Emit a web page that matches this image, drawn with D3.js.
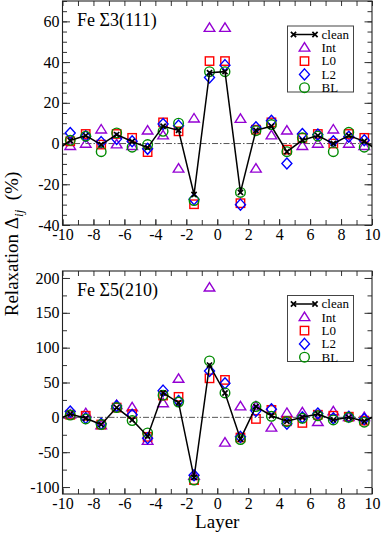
<!DOCTYPE html>
<html>
<head>
<meta charset="utf-8">
<script src="https://cdn.jsdelivr.net/npm/d3@7"></script>
<style>
  body { margin: 0; background: #fff; }
  text { font-family: "Liberation Serif", "Times New Roman", serif; fill: #000; }
</style>
</head>
<body>
<div id="chart"></div>
<script>
"use strict";
(function(){
  // layer positions (half-integer planes around the boundary)
  const layers = [-9.5,-8.5,-7.5,-6.5,-5.5,-4.5,-3.5,-2.5,-1.5,-0.5,0.5,1.5,2.5,3.5,4.5,5.5,6.5,7.5,8.5,9.5]
  const cleanLayers = [-10.5].concat(layers, [10.5])
  const seriesNames = ['clean','Int','L0','L2','BL']

  // Fe Sigma3(111)
  const s3Clean = [-4, 1.5,3.9,-0.5,4.4,1,-2,8.5,6.5,-25,34.8,35.3,-24,6.5,8.5,-4,1.6,3.9,0,3.9,1.1, -4]
  const s3Int = [-1.3,-0.2,6.8,-0.5,-1.3,6.3,3.9,-12.4,12.2,56.7,56.7,12,-12.4,3.9,6.3,-1.3,-0.2,6.8,-0.2,-1.3]
  const s3L0  = [1.1,4.7,-0.5,4.7,2.8,-4.2,10.4,6,-29.8,40.5,40.5,-29.3,6.8,10.4,-3,2.8,4.7,0,4.7,2.8]
  const s3L2  = [5.2,3.6,0.7,2.3,1.1,-2.6,9.6,8.8,-27.3,32.4,38.5,-30,8,11.2,-9.8,4.7,4.4,1.1,3.3,1.6]
  const s3BL  = [1.6,3.6,-4,5.2,-1.8,-0.5,6,10,-28,35.3,35.3,-24,6.3,9.3,-4,2.8,3.6,-4,5.5,-1.8]

  // Fe Sigma5(210)
  const s5Clean = [-4.7, 4.7,-1.4,-10.3,14,-3.7,-27,35,21,-86.4,75,35,-31,15.4,2.3,-5.6,0,4.7,-3.7,0,-5.6, 5.6]
  const s5Int = [3.7,5.6,-11.7,17.3,14,-34,20,55,-84,186,-36.5,15.4,15.4,-15,6,7,-7,8.4,0,0]
  const s5L0  = [3.7,2.3,-10.3,14,4.7,-28,31.3,29.4,-90,56,53.7,-29,-2.3,10.7,-5.6,-8,3.7,2.3,0.9,-4.7]
  const s5L2  = [8.4,-0.9,-9.3,16.4,3.7,-30,38.3,23.4,-83,66.4,49,-28,9.3,11.7,-9.3,0,5.6,-1.4,0.9,-2.3]
  const s5BL  = [3.3,-2.3,-10.3,14,-4.7,-22.4,31.8,22,-90,81,35,-31.8,15.4,1.4,-6,-1.4,2.3,-3.7,0,-7]

  const xMajor = [-10,-8,-6,-4,-2,0,2,4,6,8,10]
  const xMinor = d3.range(-10, 11, 1)

  const colors = { Int: '#9400d3', L0: '#ff0000', L2: '#0000ff', BL: '#008b00', clean: '#000' }

  const m = { width: 382, height: 534, left: 62.5, right: 372 }
  const serif = '"Liberation Serif", "Times New Roman", serif'

  const panels = [
    { title: 'Fe Σ3(111)', top: 1, bottom: 225, yDomain: [-40, 70],
      yMajor: [-40,-20,0,20,40,60], yMinor: d3.range(-40, 71, 5),
      legendTop: 26, data: [s3Clean, s3Int, s3L0, s3L2, s3BL] },
    { title: 'Fe Σ5(210)', top: 271, bottom: 494, yDomain: [-110, 210],
      yMajor: [-100,-50,0,50,100,150,200], yMinor: d3.range(-100, 211, 25),
      legendTop: 295.5, data: [s5Clean, s5Int, s5L0, s5L2, s5BL] }
  ]

  const svg = d3.select('#chart').append('svg')
      .attr('width', m.width)
      .attr('height', m.height)

  const x = d3.scaleLinear().domain([-10, 10]).range([m.left, m.right])

  function marker(sel, name) {
    sel.attr('fill', 'none').attr('stroke', colors[name]).attr('stroke-width', 1.4)
    if (name === 'Int') sel.append('path').attr('d', 'M0,-5.2L5.3,3.3L-5.3,3.3Z')
    if (name === 'L0') sel.append('rect').attr('x', -4.2).attr('y', -4.2).attr('width', 8.4).attr('height', 8.4)
    if (name === 'L2') sel.append('path').attr('d', 'M0,-5.5L5,0L0,5.5L-5,0Z')
    if (name === 'BL') sel.append('circle').attr('r', 4.8)
    if (name === 'clean') sel.append('path').attr('d', 'M-2.6,-2.6L2.6,2.6M-2.6,2.6L2.6,-2.6')
        .attr('stroke-width', 1.7)
  }

  panels.forEach(function(p, pi) {
    const y = d3.scaleLinear().domain(p.yDomain).range([p.bottom, p.top])
    const g = svg.append('g')
    const h = p.bottom - p.top

    const clipId = 'clip' + pi
    svg.append('clipPath').attr('id', clipId)
      .append('rect').attr('x', m.left).attr('y', p.top)
      .attr('width', m.right - m.left).attr('height', h)

    // zero reference line
    g.append('line')
      .attr('x1', m.left).attr('x2', m.right)
      .attr('y1', y(0)).attr('y2', y(0))
      .attr('stroke', '#444').attr('stroke-width', 0.9)
      .attr('stroke-dasharray', '6,2,1.5,2')

    // axes: ticks pointing inward on all four sides
    const tickStyle = function(sel) {
      sel.attr('font-family', serif).attr('font-size', 16)
      sel.select('.domain').remove()
      sel.selectAll('.tick line').attr('stroke', '#333')
      sel.selectAll('.tick text').attr('fill', '#000')
    }
    g.append('g').attr('transform', 'translate(0,' + p.bottom + ')')
      .call(d3.axisBottom(x).tickValues(xMinor).tickSize(-5).tickFormat(''))
      .call(tickStyle)
    g.append('g').attr('transform', 'translate(0,' + p.bottom + ')')
      .call(d3.axisBottom(x).tickValues(xMajor).tickSize(-6).tickPadding(4).tickFormat(d => String(d)))
      .call(tickStyle)
    g.append('g').attr('transform', 'translate(0,' + p.top + ')')
      .call(d3.axisTop(x).tickValues(xMinor).tickSize(-5).tickFormat(''))
      .call(tickStyle)
    g.append('g').attr('transform', 'translate(' + m.left + ',0)')
      .call(d3.axisLeft(y).tickValues(p.yMinor).tickSize(-4.5).tickFormat(''))
      .call(tickStyle)
    g.append('g').attr('transform', 'translate(' + m.left + ',0)')
      .call(d3.axisLeft(y).tickValues(p.yMajor).tickSize(-7.5).tickPadding(3).tickFormat(d => String(d)))
      .call(tickStyle)
    g.append('g').attr('transform', 'translate(' + m.right + ',0)')
      .call(d3.axisRight(y).tickValues(p.yMinor).tickSize(-4.5).tickFormat(''))
      .call(tickStyle)
    g.append('g').attr('transform', 'translate(' + m.right + ',0)')
      .call(d3.axisRight(y).tickValues(p.yMajor).tickSize(-7.5).tickFormat(''))
      .call(tickStyle)

    // frame
    g.append('rect')
      .attr('x', m.left).attr('y', p.top)
      .attr('width', m.right - m.left).attr('height', h)
      .attr('fill', 'none').attr('stroke', '#222').attr('stroke-width', 1.1)

    const plot = g.append('g').attr('clip-path', 'url(#' + clipId + ')')

    // symbol series
    seriesNames.slice(1).forEach(function(name, si) {
      const vals = p.data[si + 1]
      plot.selectAll('.m-' + name)
        .data(layers.map((l, i) => [l, vals[i]]))
        .enter()
        .append('g')
          .attr('transform', d => 'translate(' + x(d[0]) + ',' + y(d[1]) + ')')
          .each(function() { marker(d3.select(this), name) })
    })

    // clean line with crosses
    const cleanPts = cleanLayers.map((l, i) => [l, p.data[0][i]])
    const line = d3.line().x(d => x(d[0])).y(d => y(d[1]))
    plot.append('path')
      .datum(cleanPts)
      .attr('d', line)
      .attr('fill', 'none')
      .attr('stroke', '#000')
      .attr('stroke-width', 1.5)
    plot.selectAll('.m-clean')
      .data(cleanPts)
      .enter()
      .append('g')
        .attr('transform', d => 'translate(' + x(d[0]) + ',' + y(d[1]) + ')')
        .each(function() { marker(d3.select(this), 'clean') })

    // title
    g.append('text')
      .attr('x', 77).attr('y', p.top + 25)
      .attr('font-size', '18px')
      .text(p.title)

    // legend
    const lg = g.append('g').attr('transform', 'translate(287.5,' + p.legendTop + ')')
    lg.append('rect')
      .attr('width', 66).attr('height', 66)
      .attr('fill', '#fff').attr('stroke', '#444').attr('stroke-width', 1)
    seriesNames.forEach(function(name, i) {
      const ly = 8.5 + i * 13.3
      if (name === 'clean') {
        lg.append('line').attr('x1', 6).attr('x2', 27.5).attr('y1', ly).attr('y2', ly)
          .attr('stroke', '#000').attr('stroke-width', 1.5)
        ;[6, 27.5].forEach(function(lx) {
          lg.append('g').attr('transform', 'translate(' + lx + ',' + ly + ')')
            .call(s => marker(s, 'clean'))
        })
      } else {
        lg.append('g').attr('transform', 'translate(17,' + ly + ')')
          .call(s => marker(s, name))
      }
      lg.append('text')
        .attr('x', 34).attr('y', ly + 4.3)
        .attr('font-size', '13px')
        .text(name)
    })
  })

  // axis titles
  svg.append('text')
    .attr('x', (m.left + m.right) / 2).attr('y', 528)
    .attr('text-anchor', 'middle')
    .attr('font-size', '19px')
    .text('Layer')

  const yl = svg.append('text')
    .attr('transform', 'translate(18,244)rotate(-90)')
    .attr('text-anchor', 'middle')
    .attr('font-size', '19px')
  yl.append('tspan').text('Relaxation Δ')
  yl.append('tspan').attr('dy', 5).attr('font-size', '13px').attr('font-style', 'italic').text('ij')
  yl.append('tspan').attr('dy', -5).text('  (%)').attr('xml:space', 'preserve')
})();
</script>
</body>
</html>
